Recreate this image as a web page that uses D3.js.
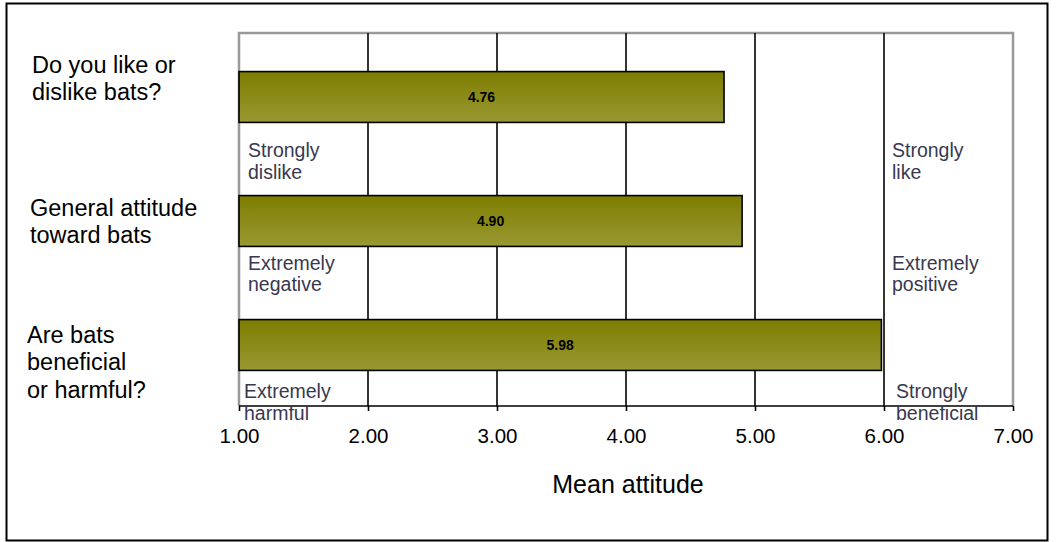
<!DOCTYPE html>
<html>
<head>
<meta charset="utf-8">
<script src="https://cdn.jsdelivr.net/npm/d3@7"></script>
<style>
  html, body { margin: 0; padding: 0; background: #fff; }
  svg { display: block; }
  text { font-family: "Liberation Sans", Arial, sans-serif; }
</style>
</head>
<body>
<svg id="chart" width="1056" height="542"></svg>
<script>
// Survey questions (one bar each), shown top to bottom
const questions = ["Do you like or dislike bats?", "General attitude toward bats", "Are bats beneficial or harmful?"];
// Line breaks for the question labels
const questionLines = [
  ["Do you like or", "dislike bats?"],
  ["General attitude", "toward bats"],
  ["Are bats", "beneficial", "or harmful?"]
];
// Mean attitude score per question (1–7 scale)
const meanScores = [4.76, 4.90, 5.98];
// Scale-end wording for each question: low end, high end
const lowAnchors = [["Strongly", "dislike"], ["Extremely", "negative"], ["Extremely", "harmful"]];
const highAnchors = [["Strongly", "like"], ["Extremely", "positive"], ["Strongly", "beneficial"]];
// Axis ticks
const tickValues = [1, 2, 3, 4, 5, 6, 7];
const axisTitle = "Mean attitude";

const svg = d3.select("#chart");

// Outer frame
svg.append("rect")
  .attr("x", 6.5).attr("y", 3.5).attr("width", 1041).attr("height", 537)
  .attr("fill", "#fff").attr("stroke", "#000").attr("stroke-width", 2);

const plot = { left: 239, right: 1013, top: 33, bottom: 406 };

const x = d3.scaleLinear().domain([1, 7]).range([plot.left, plot.right]);
const y = d3.scaleBand().domain(questions).range([plot.top + 2, plot.bottom + 1])
  .paddingInner(0.59).paddingOuter(0.295);

// Bar gradient (dark olive at top, lighter toward the bottom)
const defs = svg.append("defs");
const grad = defs.append("linearGradient").attr("id", "barFill")
  .attr("x1", 0).attr("y1", 0).attr("x2", 0).attr("y2", 1);
grad.append("stop").attr("offset", "0%").attr("stop-color", "#7d7d00");
grad.append("stop").attr("offset", "100%").attr("stop-color", "#999933");

// Plot border: grey on left, top and right
svg.append("path")
  .attr("d", `M${plot.left},${plot.bottom} V${plot.top} H${plot.right} V${plot.bottom}`)
  .attr("fill", "none").attr("stroke", "#999").attr("stroke-width", 2.5);

// Vertical gridlines at inner ticks
svg.append("g").selectAll("line")
  .data(tickValues.filter(d => d > 1 && d < 7))
  .join("line")
  .attr("x1", d => x(d)).attr("x2", d => x(d))
  .attr("y1", plot.top).attr("y2", plot.bottom)
  .attr("stroke", "#000").attr("stroke-width", 1.6);

// Bars
svg.append("g").selectAll("rect")
  .data(questions)
  .join("rect")
  .attr("x", x(1))
  .attr("y", d => y(d))
  .attr("width", (d, i) => x(meanScores[i]) - x(1))
  .attr("height", y.bandwidth())
  .attr("fill", "url(#barFill)")
  .attr("stroke", "#000").attr("stroke-width", 1.6);

// Value labels centred in each bar
svg.append("g").selectAll("text")
  .data(questions)
  .join("text")
  .attr("x", (d, i) => (x(1) + x(meanScores[i])) / 2)
  .attr("y", d => y(d) + y.bandwidth() / 2 + 5)
  .attr("text-anchor", "middle")
  .attr("font-size", 14).attr("font-weight", "bold").attr("fill", "#000")
  .text((d, i) => meanScores[i].toFixed(2));

// Bottom axis
const axis = svg.append("g")
  .attr("transform", `translate(0,${plot.bottom})`)
  .call(d3.axisBottom(x).tickValues(tickValues).tickFormat(d3.format(".2f")).tickSize(5).tickPadding(17));
axis.select(".domain").attr("stroke", "#000").attr("stroke-width", 1.6).attr("d", `M${plot.left},0 H${plot.right}`);
axis.selectAll(".tick line").attr("stroke", "#000").attr("stroke-width", 1.6);
axis.selectAll(".tick text")
  .attr("font-family", "Liberation Sans, Arial, sans-serif")
  .attr("font-size", 20.5).attr("fill", "#000");

// Axis title
svg.append("text")
  .attr("x", 628).attr("y", 493)
  .attr("text-anchor", "middle").attr("font-size", 25).attr("fill", "#000")
  .text(axisTitle);

// Question labels, placed relative to each bar's centre
const questionOffsets = [-24.5, -5, -2];
const qLines = svg.append("g").selectAll("text")
  .data(questions)
  .join("text")
  .attr("font-size", 23.5).attr("fill", "#000")
  .attr("x", (d, i) => [32, 30, 27][i])
  .attr("y", (d, i) => y(d) + y.bandwidth() / 2 + questionOffsets[i]);
qLines.selectAll("tspan")
  .data((d, i) => questionLines[i])
  .join("tspan")
  .attr("x", function () { return d3.select(this.parentNode).attr("x"); })
  .attr("dy", (d, j) => j === 0 ? 0 : 27.3)
  .text(d => d);

// Scale-end wording below each bar
const anchorDrop = [35, 23.5, 28];
const anchorColor = "#383850";
function drawAnchors(lines, xPos) {
  const t = svg.append("g").selectAll("text")
    .data(questions)
    .join("text")
    .attr("font-size", 19.5).attr("fill", anchorColor)
    .attr("x", (d, i) => xPos[i])
    .attr("y", (d, i) => y(d) + y.bandwidth() + anchorDrop[i]);
  t.selectAll("tspan")
    .data((d, i) => lines[i])
    .join("tspan")
    .attr("x", function () { return d3.select(this.parentNode).attr("x"); })
    .attr("dy", (d, j) => j === 0 ? 0 : 21.5)
    .text(d => d);
}
drawAnchors(lowAnchors, [x(1) + 9, x(1) + 9, x(1) + 5]);
drawAnchors(highAnchors, [x(6) + 8, x(6) + 8, x(6) + 12]);
</script>
</body>
</html>
